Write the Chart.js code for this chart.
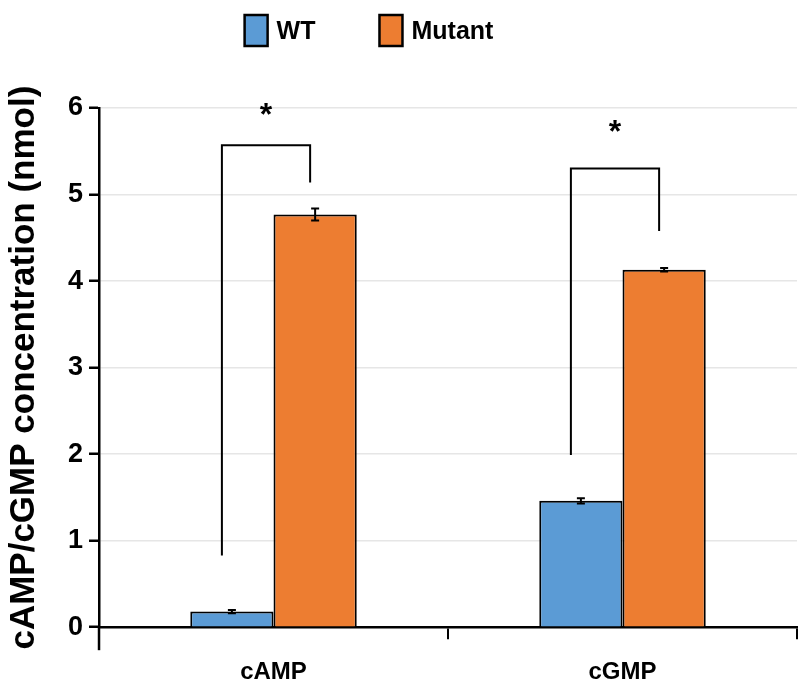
<!DOCTYPE html>
<html>
<head>
<title>cAMP/cGMP concentration</title>
<script src="https://cdn.jsdelivr.net/npm/chart.js"></script>
<style>
    body { margin: 0; background: #fff; }
</style>
</head>
<body>
<canvas id="chart" width="800" height="685"></canvas>
<script>
    // Values
    const categories = ['cAMP', 'cGMP'];
    const seriesNames = ['WT', 'Mutant'];
    const wtValues = [0.18, 1.46];
    const mutantValues = [4.77, 4.13];
    const wtErrors = [0.02, 0.03];
    const mutantErrors = [0.07, 0.02];
    const yTicks = [0, 1, 2, 3, 4, 5, 6];

    // Significance brackets (in nmol): left leg bottom, bar top, right leg bottom, star height
    const bracketLeft = [0.83, 1.99];
    const bracketTop = [5.57, 5.30];
    const bracketRight = [5.14, 4.58];
    const starLevel = [5.98, 5.78];
    const starText = ['*', '*'];

    const FONT = "'Liberation Sans', Arial, sans-serif";
    const errors = [wtErrors, mutantErrors];

    // error bars, brackets, stars, legend
    const extras = {
        id: 'extras',
        afterDatasetsDraw(chart) {
            const ctx = chart.ctx;
            const y = chart.scales.y;
            const area = chart.chartArea;
            ctx.save();
            ctx.strokeStyle = '#000';
            ctx.lineWidth = 2;

            chart.data.datasets.forEach((ds, i) => {
                chart.getDatasetMeta(i).data.forEach((bar, j) => {
                    const v = ds.data[j], e = errors[i][j];
                    const top = y.getPixelForValue(v + e);
                    const bot = y.getPixelForValue(v - e);
                    ctx.beginPath();
                    ctx.moveTo(bar.x, top); ctx.lineTo(bar.x, bot);
                    ctx.moveTo(bar.x - 4, top); ctx.lineTo(bar.x + 4, top);
                    ctx.moveTo(bar.x - 4, bot); ctx.lineTo(bar.x + 4, bot);
                    ctx.stroke();
                });
            });

            const wtBars = chart.getDatasetMeta(0).data;
            const mutBars = chart.getDatasetMeta(1).data;
            ctx.fillStyle = '#000';
            ctx.font = 'bold 32px ' + FONT;
            ctx.textAlign = 'center';
            ctx.textBaseline = 'middle';
            categories.forEach((c, j) => {
                const x1 = wtBars[j].x - 10;
                const x2 = mutBars[j].x - 5;
                ctx.beginPath();
                ctx.moveTo(x1, y.getPixelForValue(bracketLeft[j]));
                ctx.lineTo(x1, y.getPixelForValue(bracketTop[j]));
                ctx.lineTo(x2, y.getPixelForValue(bracketTop[j]));
                ctx.lineTo(x2, y.getPixelForValue(bracketRight[j]));
                ctx.stroke();
                ctx.fillText(starText[j], (x1 + x2) / 2, y.getPixelForValue(starLevel[j]) + 6);
            });

            // y axis runs on below the x axis
            ctx.lineWidth = 2.5;
            ctx.beginPath();
            ctx.moveTo(area.left, area.bottom);
            ctx.lineTo(area.left, area.bottom + 23);
            ctx.stroke();
            ctx.restore();
        },
        afterDraw(chart) {
            const ctx = chart.ctx;
            ctx.save();
            ctx.font = 'bold 25px ' + FONT;
            ctx.textBaseline = 'middle';
            const boxW = 23, boxH = 31, gap = 9, space = 64;
            const widths = chart.data.datasets.map(ds => ctx.measureText(ds.label).width);
            let total = widths.reduce((a, w) => a + boxW + gap + w, 0) + space;
            let x = 369 - total / 2;
            chart.data.datasets.forEach((ds, i) => {
                ctx.fillStyle = ds.backgroundColor;
                ctx.fillRect(x, 15, boxW, boxH);
                ctx.strokeStyle = '#000';
                ctx.lineWidth = 2.5;
                ctx.strokeRect(x, 15, boxW, boxH);
                ctx.fillStyle = '#000';
                ctx.fillText(ds.label, x + boxW + gap, 32);
                x += boxW + gap + widths[i] + space;
            });
            ctx.restore();
        }
    };

    const data = {
        labels: categories,
        datasets: [
            {
                label: seriesNames[0],
                data: wtValues,
                backgroundColor: '#5B9BD5',
                borderColor: '#000',
                borderWidth: 2,
                categoryPercentage: 0.477,
                barPercentage: 1
            },
            {
                label: seriesNames[1],
                data: mutantValues,
                backgroundColor: '#ED7D31',
                borderColor: '#000',
                borderWidth: 2,
                categoryPercentage: 0.477,
                barPercentage: 1
            }
        ]
    };

    const config = {
        type: 'bar',
        data: data,
        options: {
            responsive: false,
            animation: false,
            layout: { padding: { top: 108, right: 3, left: 3, bottom: -21 } },
            plugins: {
                legend: { display: false },
                tooltip: { enabled: false }
            },
            scales: {
                x: {
                    grid: { offset: true, drawOnChartArea: false, color: '#000', lineWidth: 2, tickLength: 12 },
                    border: { color: '#000', width: 2.5 },
                    ticks: { color: '#000', padding: 19, font: { family: FONT, size: 24, weight: 'bold' } }
                },
                y: {
                    min: 0,
                    max: 6,
                    afterBuildTicks: scale => { scale.ticks = yTicks.map(v => ({ value: v })); },
                    grid: { color: '#e6e6e6', lineWidth: 1.5, tickColor: '#000', tickLength: 10, tickWidth: 2.5 },
                    border: { color: '#000', width: 2.5 },
                    ticks: { color: '#000', padding: 6, font: { family: FONT, size: 27, weight: 'bold' } },
                    title: {
                        display: true,
                        text: 'cAMP/cGMP concentration (nmol)',
                        color: '#000',
                        padding: { top: 0, bottom: 17 },
                        font: { family: FONT, size: 35, weight: 'bold' }
                    }
                }
            }
        },
        plugins: [extras]
    };

    new Chart(document.getElementById('chart').getContext('2d'), config);
</script>
</body>
</html>
